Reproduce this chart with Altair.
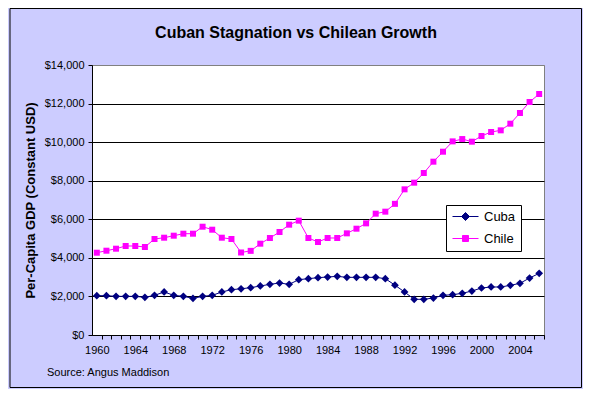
import altair as alt
import pandas as pd

years = list(range(1960, 2007))
cuba = [2039, 2039, 2004, 2004, 2004, 1953, 2057, 2230, 2057, 2004,
        1901, 2004, 2057, 2230, 2351, 2395, 2455, 2541, 2627, 2696,
        2627, 2869, 2921, 2973, 3007, 3042, 2990, 2990, 2990, 2990,
        2921, 2585, 2230, 1850, 1850, 1918, 2057, 2091, 2160, 2281,
        2437, 2489, 2489, 2575, 2679, 2955, 3197]
chile = [4267, 4371, 4475, 4615, 4615, 4563, 4978, 5045, 5149, 5253,
         5253, 5615, 5460, 5045, 4978, 4278, 4363, 4735, 5030, 5341,
         5720, 5928, 5030, 4822, 5030, 5030, 5271, 5512, 5789, 6291,
         6395, 6800, 7553, 7898, 8400, 8987, 9504, 10040, 10160, 10024,
         10318, 10525, 10612, 10957, 11511, 12081, 12496]
series_names = ["Cuba", "Chile"]
series_colors = ["#000080", "#FF00FF"]
y_ticks = [0, 2000, 4000, 6000, 8000, 10000, 12000, 14000]
title_text = ["Cuban Stagnation vs Chilean Growth"]
source_text = ["Source: Angus Maddison"]
y_title = "Per-Capita GDP (Constant USD)"

df = pd.DataFrame({
    "Year": years * 2,
    "GDP": cuba + chile,
    "Country": ["Cuba"] * len(years) + ["Chile"] * len(years),
})

W, H = 452, 270
step = W / len(years)
FONT = "Liberation Sans"

x_enc = alt.X(
    "Year:Q",
    scale=alt.Scale(domain=[years[0] - 0.5, years[-1] + 0.5], nice=False, zero=False),
    axis=alt.Axis(
        values=years, tickOffset=step / 2, labelOffset=-step / 2,
        labelExpr="datum.value % 4 == 0 ? '' + datum.value : ''",
        grid=False, title=None, tickSize=4, tickColor="black",
        domainColor="black", labelOverlap=False, labelFlush=False,
        labelBound=False, labelPadding=5, labelFontSize=11,
        labelFont=FONT, labelColor="black",
    ),
)
y_enc = alt.Y(
    "GDP:Q",
    scale=alt.Scale(domain=[0, 14000], nice=False),
    axis=alt.Axis(
        values=y_ticks, format="$,.0f", grid=True,
        gridColor=alt.expr("datum.value == 14000 ? '#808080' : 'black'"),
        gridWidth=1, tickSize=4, tickColor="black", domainColor="black",
        labelPadding=4, labelFontSize=11, labelFont=FONT, labelColor="black",
        title=y_title, titleFont=FONT, titleFontSize=13, titleFontWeight="bold",
        titleColor="black", titleX=-58, titleY=H / 2, titleAngle=270,
        titleAlign="center", titleBaseline="alphabetic",
    ),
)
color_scale = alt.Scale(domain=series_names, range=series_colors)

lines = alt.Chart(df).mark_line(strokeWidth=1).encode(
    x=x_enc, y=y_enc,
    color=alt.Color("Country:N", scale=color_scale, legend=None),
    detail="Country:N",
)
points = alt.Chart(df).mark_point(filled=True, opacity=1).encode(
    x=x_enc, y=y_enc,
    color=alt.Color("Country:N", scale=color_scale, legend=None),
    shape=alt.Shape("Country:N", scale=alt.Scale(domain=series_names, range=["diamond", "square"]), legend=None),
    size=alt.Size("Country:N", scale=alt.Scale(domain=series_names, range=[60, 36]), legend=None),
)

path_cuba = "M-2.6,0L2.6,0M-0.8,0L0,-0.8L0.8,0L0,0.8Z"
path_chile = "M-2.6,0L2.6,0M-0.6,-0.6L0.6,-0.6L0.6,0.6L-0.6,0.6Z"
leg = alt.Legend(
    title=None, orient="none", legendX=354, legendY=140,
    strokeColor="black", fillColor="white", padding=5,
    labelFont=FONT, labelFontSize=13, labelColor="black",
    symbolSize=100, symbolStrokeWidth=1, symbolOffset=8, labelOffset=12,
    rowPadding=8, symbolFillColor="black",
)
legend_layer = alt.Chart(df).transform_filter("false").mark_point(filled=True, opacity=1).encode(
    x=x_enc, y=y_enc,
    fill=alt.Fill("Country:N", scale=alt.Scale(domain=series_names, range=series_colors), legend=leg),
    stroke=alt.Stroke("Country:N", scale=alt.Scale(domain=series_names, range=series_colors), legend=leg),
    shape=alt.Shape("Country:N", scale=alt.Scale(domain=series_names, range=[path_cuba, path_chile]), legend=leg),
)

title = alt.Chart(pd.DataFrame({"t": title_text})).mark_text(
    font=FONT, fontSize=16, fontWeight="bold", color="black",
    align="center", baseline="alphabetic",
).encode(text="t:N", x=alt.value(204), y=alt.value(-27))

source = alt.Chart(pd.DataFrame({"t": source_text})).mark_text(
    font=FONT, fontSize=11, color="black", align="left", baseline="alphabetic",
).encode(text="t:N", x=alt.value(-45), y=alt.value(311))

frame = alt.Chart(pd.DataFrame({"f": [0]})).mark_rect(
    filled=False, stroke="black", strokeWidth=1,
).encode(x=alt.value(-82), x2=alt.value(489.5), y=alt.value(-56.5), y2=alt.value(322.5))

chart = alt.layer(frame, lines, points, legend_layer, title, source).resolve_scale(
    shape="independent", fill="independent", stroke="independent"
).properties(
    width=W, height=H, background="#CCCCFF",
    autosize=alt.AutoSizeParams(type="none"),
    padding={"left": 84, "top": 57, "right": 39, "bottom": 54},
).configure_view(fill="white", stroke="#808080", strokeWidth=1)

chart.save("out.html", embed_options={"renderer": "svg", "actions": False})
